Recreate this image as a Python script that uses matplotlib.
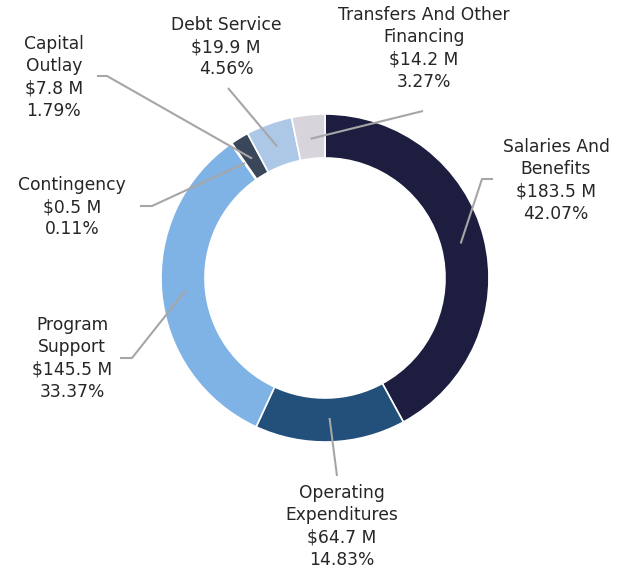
import numpy as np
import matplotlib
matplotlib.use("Agg")
import matplotlib.pyplot as plt

categories = ["Salaries And\nBenefits", "Operating\nExpenditures", "Program\nSupport",
              "Contingency", "Capital\nOutlay", "Debt Service", "Transfers And Other\nFinancing"]
amounts = [183.5, 64.7, 145.5, 0.5, 7.8, 19.9, 14.2]
percents = [42.07, 14.83, 33.37, 0.11, 1.79, 4.56, 3.27]
colors = ["#1c1d3f", "#22507a", "#7fb2e5", "#4a6a96", "#3a4659", "#adc8e7", "#d8d4dc"]

W, H = 621, 571
fig = plt.figure(figsize=(W / 100, H / 100), dpi=100)
ax = fig.add_axes([0, 0, 1, 1])

cx, cy = 325, H - 278
R, width = 164, 44
wedges, _ = ax.pie(percents, colors=colors, startangle=90, counterclock=False,
                   radius=R, center=(cx, cy), frame=True,
                   wedgeprops=dict(width=width, edgecolor="white", linewidth=1.2))
ax.set_xlim(0, W)
ax.set_ylim(0, H)
ax.axis("off")

# label anchor (text center x, top y in pixel coords), elbow points (pixel coords)
label_pos = [
    (556, 138), (342, 484), (72, 316), (72, 176), (54, 35), (226, 16), (424, 6)
]
leader = [
    [(493, 179), (482, 179)],
    [(337, 476)],
    [(120, 358), (132, 358)],
    [(140, 206), (152, 206)],
    [(97, 76), (107, 76)],
    [(228, 88)],
    [(423, 111)],
]
r_lead = 140

for i, w in enumerate(wedges):
    mid = np.deg2rad((w.theta1 + w.theta2) / 2)
    px, py = cx + r_lead * np.cos(mid), cy + r_lead * np.sin(mid)
    pts = [(x, H - y) for x, y in leader[i]] + [(px, py)]
    xs, ys = zip(*pts)
    ax.plot(xs, ys, color="#a6a6a6", lw=1.5, solid_capstyle="butt", zorder=5)
    tx, ty = label_pos[i]
    txt = f"{categories[i]}\n${amounts[i]:.1f} M\n{percents[i]:.2f}%"
    ax.text(tx, H - ty, txt, ha="center", va="top", fontsize=12.3,
            color="#262626", linespacing=1.3, family="DejaVu Sans")

fig.savefig("out.png", dpi=100, facecolor="white")
